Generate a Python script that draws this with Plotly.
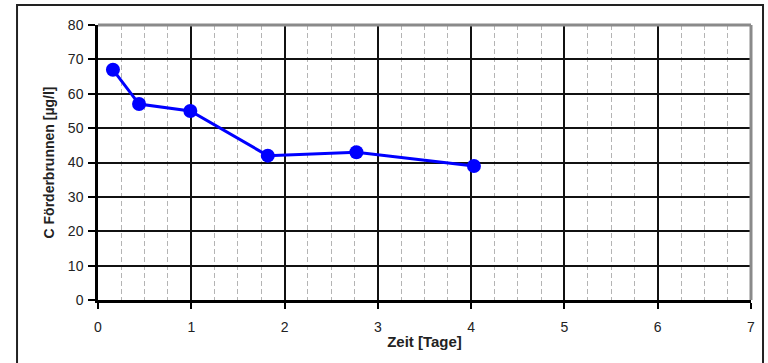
import plotly.graph_objects as go

zeit_tage = [0.16, 0.44, 0.99, 1.82, 2.77, 4.03]
c_foerderbrunnen = [67, 57, 55, 42, 43, 39]
x_ticks = [0, 1, 2, 3, 4, 5, 6, 7]
y_ticks = [0, 10, 20, 30, 40, 50, 60, 70, 80]

fig = go.Figure()
fig.add_trace(go.Scatter(
    x=zeit_tage, y=c_foerderbrunnen, mode="lines+markers",
    line=dict(color="#0000FF", width=3),
    marker=dict(color="#0000FF", size=14),
    showlegend=False,
))

font = dict(family="Liberation Sans, Arial, sans-serif", size=14, color="#222222")

fig.update_layout(
    width=768, height=363,
    margin=dict(l=98, r=17, t=25, b=63),
    paper_bgcolor="white", plot_bgcolor="white",
    font=font,
    xaxis=dict(
        range=[0, 7], tickvals=x_ticks, ticks="outside", ticklen=6, tickwidth=1.5,
        tickcolor="black", ticklabelstandoff=6,
        showline=True, linecolor="black", linewidth=2.5,
        showgrid=True, gridcolor="#111111", gridwidth=1.5,
        minor=dict(dtick=0.25, showgrid=True, gridcolor="#b4b4b4", griddash="5px,3px", gridwidth=1),
        zeroline=False,
        title=dict(text="<b>Zeit [Tage]</b>", font=dict(size=15), standoff=3),
    ),
    yaxis=dict(
        range=[0, 80], tickvals=y_ticks, ticks="outside", ticklen=7, tickwidth=1.5,
        tickcolor="black", ticklabelstandoff=2,
        showline=True, linecolor="black", linewidth=2.5,
        showgrid=True, gridcolor="#111111", gridwidth=1.5,
        zeroline=False,
        title=dict(text="<b>C Förderbrunnen [µg/l]</b>", font=dict(size=14), standoff=10),
    ),
    shapes=[
        dict(type="line", xref="paper", yref="paper", x0=0, x1=1, y0=1, y1=1,
             line=dict(color="#8a8a8a", width=3), layer="above"),
        dict(type="line", xref="paper", yref="paper", x0=1, x1=1, y0=0, y1=1,
             line=dict(color="#8a8a8a", width=3), layer="above"),
        dict(type="path", xref="paper", yref="paper",
             path="M -0.124,-0.3 L -0.124,1.0727 L 1.0184,1.0727 L 1.0184,-0.3",
             line=dict(color="#222222", width=2)),
    ],
)

fig.write_html("out.html", config={"displayModeBar": False},
               post_script="document.body.style.margin='0';document.body.style.overflow='hidden';")
